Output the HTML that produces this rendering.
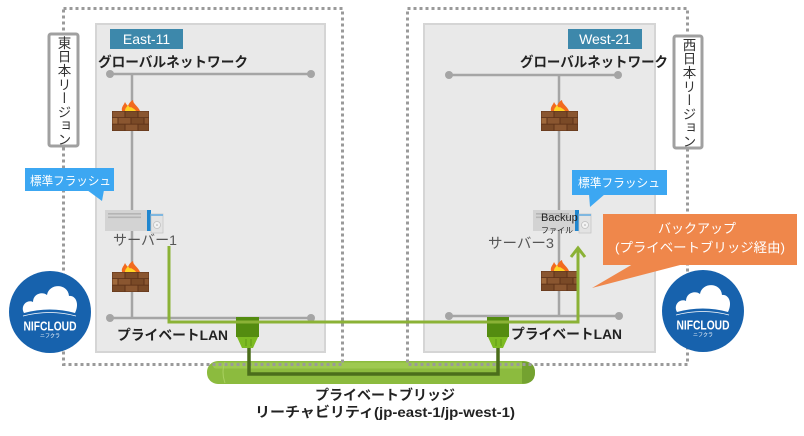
<!DOCTYPE html>
<html><head><meta charset="utf-8"><style>
html,body{margin:0;padding:0;background:#fff;width:804px;height:436px;overflow:hidden}
.wrap{position:relative;width:804px;height:436px}
svg{position:absolute;left:0;top:0}
.vlab{position:absolute;writing-mode:vertical-rl;font-family:"Liberation Sans","Noto Sans CJK JP",sans-serif;font-size:13.5px;color:#333;line-height:1;letter-spacing:0.3px;}
</style></head><body><div class="wrap">
<svg width="804" height="436" viewBox="0 0 804 436" font-family="'Liberation Sans','Noto Sans CJK JP',sans-serif">
<defs>
  <g id="fw">
    <path d="M10,0 C9,-4 12,-6 13,-9 C14,-7 15,-6 16,-5 C17,-8 19,-10 21,-11 C21,-7 26,-5 28,0 Z" fill="#f26a1e"/>
    <path d="M13,0 C13,-3 15,-4 16,-6 C17,-4 18,-3 19,-4 C20,-3 23,-2 24,0 Z" fill="#ffd424"/>
    <rect x="0" y="0" width="37" height="20" fill="#5e3319"/>
    <rect x="0.5" y="0.5" width="12" height="5.7" fill="#8a5630"/>
    <rect x="13.5" y="0.5" width="12" height="5.7" fill="#7a4a27"/>
    <rect x="26.5" y="0.5" width="10" height="5.7" fill="#8a5630"/>
    <rect x="0.5" y="7" width="5" height="5.7" fill="#a06a3c"/>
    <rect x="6.5" y="7" width="12" height="5.7" fill="#8a5630"/>
    <rect x="19.5" y="7" width="12" height="5.7" fill="#7a4a27"/>
    <rect x="32.5" y="7" width="4" height="5.7" fill="#8a5630"/>
    <rect x="0.5" y="13.6" width="12" height="5.9" fill="#7a4a27"/>
    <rect x="13.5" y="13.6" width="12" height="5.9" fill="#8a5630"/>
    <rect x="26.5" y="13.6" width="10" height="5.9" fill="#7a4a27"/>
  </g>
  <g id="srv">
    <rect x="0" y="0" width="42" height="21" fill="#d3d3d3"/>
    <rect x="3" y="3" width="33" height="1.6" fill="#b5b5b5"/>
    <rect x="3" y="6.5" width="33" height="1.6" fill="#b5b5b5"/>
    <rect x="42" y="0" width="4" height="21" fill="#1f86cf"/>
    <rect x="46" y="4" width="12" height="19" fill="#e3e3e3" stroke="#c6c6c6" stroke-width="0.8"/>
    <rect x="46" y="4" width="12" height="2" fill="#7fb7e0"/>
    <circle cx="52" cy="15" r="3.5" fill="#f2f2f2" stroke="#c0c0c0" stroke-width="0.8"/>
    <circle cx="52" cy="15" r="0.8" fill="#aaa"/>
  </g>
  <g id="logo">
    <circle cx="0" cy="0" r="41" fill="#1762ad"/>
    <path d="M-26,1 C-30,-6 -23,-13 -17,-10 C-17,-18 -8,-21 -3,-17 C-1,-29 18,-29 19,-16 C25,-17 30,-9 25,1 Q0,-6 -26,1 Z" fill="#fff"/>
    <path d="M-27,4 Q0,-3 26,4" fill="none" stroke="#fff" stroke-width="0.8"/>
    <text x="0" y="18.5" text-anchor="middle" font-size="12.5" font-weight="bold" fill="#fff" textLength="53" lengthAdjust="spacingAndGlyphs">NIFCLOUD</text>
    <text x="0" y="25.5" text-anchor="middle" font-size="5" fill="#fff">ニフクラ</text>
  </g>
</defs>

<!-- bridge tube -->
<rect x="207" y="361" width="328" height="23" rx="11" fill="#8cbb3e"/>
<rect x="213" y="362.5" width="316" height="6" rx="3" fill="#a2cd55" opacity="0.8"/>
<path d="M522,361.5 Q535,361 535,372.5 Q535,384 522,383.5 Z" fill="#74a230"/>
<path d="M225,362 Q221,372 225,383" fill="none" stroke="#a9d060" stroke-width="1"/>

<!-- dotted regions -->
<rect x="63.5" y="8.5" width="279" height="356" fill="none" stroke="#9a9a9a" stroke-width="3" stroke-dasharray="3 3"/>
<rect x="407.5" y="8.5" width="280" height="356" fill="none" stroke="#9a9a9a" stroke-width="3" stroke-dasharray="3 3"/>

<!-- gray boxes -->
<rect x="96" y="24" width="229" height="328" fill="#e9e9e9" stroke="#d5d5d5" stroke-width="2"/>
<rect x="424" y="24" width="231" height="328" fill="#e9e9e9" stroke="#d5d5d5" stroke-width="2"/>

<!-- region labels -->
<rect x="49" y="34" width="29" height="112" rx="2" fill="#fff" stroke="#a0a0a0" stroke-width="3"/>
<rect x="674" y="36" width="28" height="112" rx="2" fill="#fff" stroke="#a0a0a0" stroke-width="3"/>

<!-- East / West labels -->
<rect x="110" y="29" width="73" height="20" fill="#3d88ab"/>
<text x="146.5" y="44" text-anchor="middle" font-size="14" fill="#fff">East-11</text>
<rect x="568" y="29" width="74" height="20" fill="#3d88ab"/>
<text x="605" y="44" text-anchor="middle" font-size="14" fill="#fff">West-21</text>

<!-- global network titles -->
<text x="98" y="67" font-size="14" font-weight="bold" fill="#222" textLength="150" lengthAdjust="spacingAndGlyphs">グローバルネットワーク</text>
<text x="520" y="67" font-size="14" font-weight="bold" fill="#222" textLength="148" lengthAdjust="spacingAndGlyphs">グローバルネットワーク</text>

<!-- gray network lines -->
<g stroke="#a5a5a5" stroke-width="2.5" fill="none">
  <line x1="110" y1="74" x2="311" y2="74"/>
  <line x1="132" y1="74" x2="132" y2="318"/>
  <line x1="110" y1="318" x2="311" y2="318"/>
  <line x1="449" y1="75" x2="618" y2="75"/>
  <line x1="559" y1="75" x2="559" y2="316"/>
  <line x1="449" y1="316" x2="619" y2="316"/>
</g>
<g fill="#a5a5a5">
  <circle cx="110" cy="74" r="4"/><circle cx="311" cy="74" r="4"/>
  <circle cx="110" cy="318" r="4"/><circle cx="311" cy="318" r="4"/>
  <circle cx="449" cy="75" r="4"/><circle cx="618" cy="75" r="4"/>
  <circle cx="449" cy="316" r="4"/><circle cx="619" cy="316" r="4"/>
</g>

<!-- firewalls -->
<use href="#fw" x="112" y="111"/>
<use href="#fw" x="112" y="272"/>
<use href="#fw" x="541" y="111"/>
<use href="#fw" x="541" y="271"/>

<!-- servers -->
<use href="#srv" x="105" y="210"/>
<use href="#srv" x="533" y="210"/>
<text x="113" y="245" font-size="14" fill="#555" textLength="64" lengthAdjust="spacingAndGlyphs">サーバー1</text>
<text x="488" y="248" font-size="14" fill="#555" textLength="66" lengthAdjust="spacingAndGlyphs">サーバー3</text>
<text x="541" y="221" font-size="11" fill="#222">Backup</text>
<text x="541" y="233" font-size="8" fill="#222">ファイル</text>

<!-- LAN labels -->
<text x="117" y="340" font-size="14" font-weight="bold" fill="#222" textLength="111" lengthAdjust="spacingAndGlyphs">プライベートLAN</text>
<text x="511" y="339" font-size="14" font-weight="bold" fill="#222" textLength="111" lengthAdjust="spacingAndGlyphs">プライベートLAN</text>

<!-- dark green bridge path -->
<path d="M249,346 L249,374 L498,374 L498,346" fill="none" stroke="#4b6e1b" stroke-width="3.5"/>

<!-- connectors -->
<g>
  <rect x="236" y="317" width="23" height="20" fill="#548c10"/>
  <polygon points="237,337 258,337 253,348 242,348" fill="#7dbb22"/>
  <line x1="246" y1="339" x2="246" y2="346" stroke="#5d9a14" stroke-width="1"/>
  <line x1="251" y1="339" x2="251" y2="346" stroke="#5d9a14" stroke-width="1"/>
  <rect x="487" y="317" width="22" height="20" fill="#548c10"/>
  <polygon points="488,337 508,337 503,348 493,348" fill="#7dbb22"/>
  <line x1="496" y1="339" x2="496" y2="346" stroke="#5d9a14" stroke-width="1"/>
  <line x1="501" y1="339" x2="501" y2="346" stroke="#5d9a14" stroke-width="1"/>
</g>

<!-- light green backup path -->
<path d="M169,246 L169,322 L578,322 L578,248" fill="none" stroke="#8bb236" stroke-width="3"/>
<polyline points="571,257 578,248 585,257" fill="none" stroke="#8bb236" stroke-width="3" stroke-linejoin="miter"/>

<!-- blue callouts -->
<rect x="25" y="168" width="89" height="23" fill="#3ca7f2"/>
<polygon points="87,190 104,190 102,201" fill="#3ca7f2"/>
<text x="30" y="185" font-size="12" fill="#fff" textLength="81" lengthAdjust="spacingAndGlyphs">標準フラッシュ</text>
<rect x="572" y="170" width="95" height="25" fill="#3ca7f2"/>
<polygon points="589,194 605,194 590,207" fill="#3ca7f2"/>
<text x="578" y="187" font-size="12" fill="#fff" textLength="82" lengthAdjust="spacingAndGlyphs">標準フラッシュ</text>

<!-- orange callout -->
<rect x="603" y="214" width="194" height="51" fill="#ef874b"/>
<polygon points="633,264 684,264 592,288" fill="#ef874b"/>
<text x="697" y="233" text-anchor="middle" font-size="13" fill="#fff">バックアップ</text>
<text x="700" y="252" text-anchor="middle" font-size="13" fill="#fff" textLength="170" lengthAdjust="spacingAndGlyphs">(プライベートブリッジ経由)</text>

<!-- logos -->
<use href="#logo" x="50" y="312"/>
<use href="#logo" x="703" y="311"/>

<!-- bridge text -->
<text x="385" y="400" text-anchor="middle" font-size="14" font-weight="bold" fill="#222">プライベートブリッジ</text>
<text x="385" y="417" text-anchor="middle" font-size="14" font-weight="bold" fill="#222" textLength="260" lengthAdjust="spacingAndGlyphs">リーチャビリティ(jp-east-1/jp-west-1)</text>
</svg>
<div class="vlab" style="left:56px;top:36px;">東日本リージョン</div>
<div class="vlab" style="left:681px;top:38px;">西日本リージョン</div>
</div></body></html>
